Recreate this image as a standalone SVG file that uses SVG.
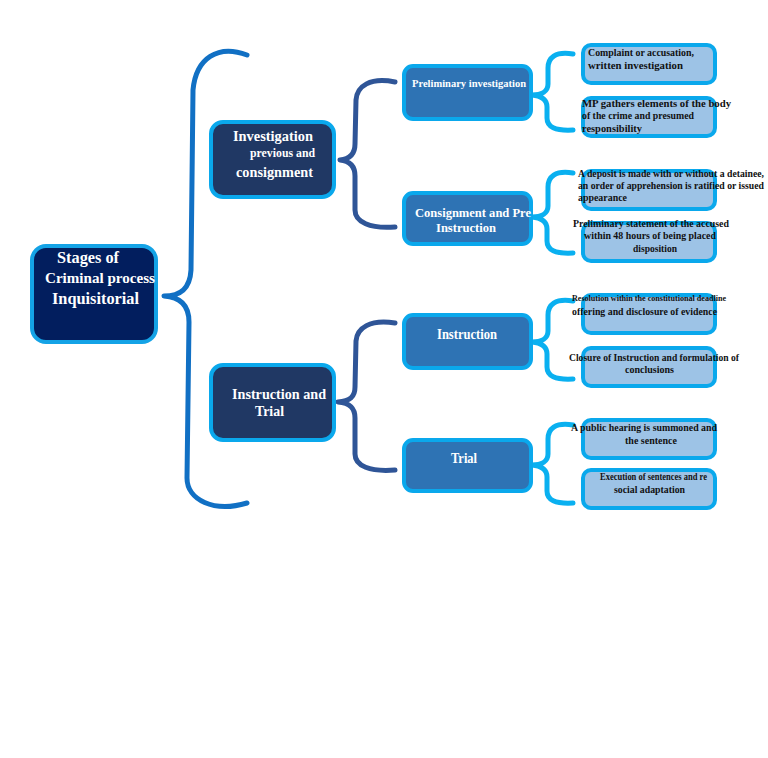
<svg xmlns="http://www.w3.org/2000/svg" width="768" height="758" viewBox="0 0 768 758">
<style>
.root{fill:#021e5e;stroke:#14a3e6;stroke-width:4}
.l1{fill:#203864;stroke:#0aa8ec;stroke-width:4}
.l2{fill:#2e73b4;stroke:#0aa8ec;stroke-width:4}
.leaf{fill:#9dc3e6;stroke:#0aa8ec;stroke-width:4}
text{font-family:"Liberation Serif","Times New Roman",serif;font-weight:bold}
.w{fill:#ffffff}
.k{fill:#111111}
.b0{fill:none;stroke:#1170c4;stroke-width:5;stroke-linecap:round;stroke-linejoin:round}
.b1{fill:none;stroke:#2f5597;stroke-width:5;stroke-linecap:round;stroke-linejoin:round}
.b2{fill:none;stroke:#0ab0f0;stroke-width:5;stroke-linecap:round;stroke-linejoin:round}
</style>
<rect width="768" height="758" fill="#ffffff"/>
<g id="connectors">
<path class="b0" d="M247,55 C218,44 196,58 193,90 L191,270 C190,288 181,296 164,296 C181,297 189,306 189,322 L187,478 C187,500 214,513 247,503"/>
<path class="b1" d="M395,82 C370,77 357,86 356,100 L355,144 C355,154 350,159 340,160 C350,161 355,166 355,176 L355,210 C355,222 370,229 395,227"/>
<path class="b1" d="M395,323 C370,319 357,328 356,341 L355,387 C355,397 350,401 338,402 C350,403 355,408 355,418 L355,454 C355,466 370,472 395,470"/>
<path class="b2" d="M573,54 C555,51 548,58 548,68 L548,84 C548,91 542,95 532,95 C542,96 547,100 547,107 L547,118 C547,127 555,131 573,130"/>
<path class="b2" d="M573,173 C555,170 548,177 548,187 L548,206 C548,213 542,217 532,217 C542,218 547,222 547,229 L547,241 C547,250 555,254 573,253"/>
<path class="b2" d="M573,301 C555,298 548,305 548,315 L548,331 C548,338 542,342 532,342 C542,343 547,347 547,354 L547,367 C547,376 555,380 573,379"/>
<path class="b2" d="M573,425 C555,422 548,429 548,439 L548,454 C548,461 542,465 532,465 C542,466 547,470 547,477 L547,491 C547,500 555,504 573,503"/>
</g>
<g id="root">
<rect class="root" x="32" y="246" width="124" height="96" rx="14"/>
<text class="w" x="57" y="263" font-size="16" textLength="62" lengthAdjust="spacingAndGlyphs">Stages of</text>
<text class="w" x="45" y="283" font-size="15" textLength="110" lengthAdjust="spacingAndGlyphs">Criminal process</text>
<text class="w" x="52" y="304" font-size="16.5" textLength="87" lengthAdjust="spacingAndGlyphs">Inquisitorial</text>
</g>
<g id="n-investigation">
<rect class="l1" x="211" y="122" width="123" height="75" rx="12"/>
<text class="w" x="233" y="141" font-size="15" textLength="80" lengthAdjust="spacingAndGlyphs">Investigation</text>
<text class="w" x="250" y="157" font-size="12" textLength="65" lengthAdjust="spacingAndGlyphs">previous and</text>
<text class="w" x="236" y="177" font-size="15" textLength="77" lengthAdjust="spacingAndGlyphs">consignment</text>
</g>
<g id="n-instruction-trial">
<rect class="l1" x="211" y="365" width="123" height="75" rx="12"/>
<text class="w" x="232" y="399" font-size="15" textLength="94" lengthAdjust="spacingAndGlyphs">Instruction and</text>
<text class="w" x="255" y="416" font-size="15" textLength="29" lengthAdjust="spacingAndGlyphs">Trial</text>
</g>
<g id="n-preliminary">
<rect class="l2" x="404" y="66" width="127" height="53" rx="9"/>
<text class="w" x="412" y="87" font-size="11" textLength="114" lengthAdjust="spacingAndGlyphs">Preliminary investigation</text>
</g>
<g id="n-consignment">
<rect class="l2" x="404" y="193" width="127" height="51" rx="9"/>
<text class="w" x="415" y="217" font-size="13" textLength="116" lengthAdjust="spacingAndGlyphs">Consignment and Pre</text>
<text class="w" x="436" y="232" font-size="13" textLength="60" lengthAdjust="spacingAndGlyphs">Instruction</text>
</g>
<g id="n-instruction">
<rect class="l2" x="404" y="315" width="127" height="53" rx="9"/>
<text class="w" x="437" y="339" font-size="14" textLength="60" lengthAdjust="spacingAndGlyphs">Instruction</text>
</g>
<g id="n-trial">
<rect class="l2" x="404" y="440" width="127" height="51" rx="9"/>
<text class="w" x="451" y="463" font-size="14" textLength="26" lengthAdjust="spacingAndGlyphs">Trial</text>
</g>
<g id="leaf-complaint">
<rect class="leaf" x="583" y="45" width="132" height="38" rx="8"/>
<text class="k" x="588" y="56" font-size="11" textLength="106" lengthAdjust="spacingAndGlyphs">Complaint or accusation,</text>
<text class="k" x="588" y="69" font-size="11" textLength="95" lengthAdjust="spacingAndGlyphs">written investigation</text>
</g>
<g id="leaf-mp">
<rect class="leaf" x="583" y="98" width="132" height="38" rx="8"/>
<text class="k" x="582" y="107" font-size="11" textLength="149" lengthAdjust="spacingAndGlyphs">MP gathers elements of the body</text>
<text class="k" x="582" y="119" font-size="11" textLength="112" lengthAdjust="spacingAndGlyphs">of the crime and presumed</text>
<text class="k" x="582" y="132" font-size="11" textLength="60" lengthAdjust="spacingAndGlyphs">responsibility</text>
</g>
<g id="leaf-deposit">
<rect class="leaf" x="583" y="171" width="132" height="38" rx="8"/>
<text class="k" x="578" y="177" font-size="9.6" textLength="186" lengthAdjust="spacingAndGlyphs">A deposit is made with or without a detainee,</text>
<text class="k" x="578" y="189" font-size="9.6" textLength="186" lengthAdjust="spacingAndGlyphs">an order of apprehension is ratified or issued</text>
<text class="k" x="578" y="201" font-size="10.5" textLength="49" lengthAdjust="spacingAndGlyphs">appearance</text>
</g>
<g id="leaf-statement">
<rect class="leaf" x="583" y="223" width="132" height="38" rx="8"/>
<text class="k" x="573" y="227" font-size="10.5" textLength="156" lengthAdjust="spacingAndGlyphs">Preliminary statement of the accused</text>
<text class="k" x="584" y="239" font-size="10.5" textLength="132" lengthAdjust="spacingAndGlyphs">within 48 hours of being placed</text>
<text class="k" x="633" y="252" font-size="10.5" textLength="44" lengthAdjust="spacingAndGlyphs">disposition</text>
</g>
<g id="leaf-resolution">
<rect class="leaf" x="583" y="295" width="132" height="38" rx="8"/>
<text class="k" x="572" y="301" font-size="9" textLength="154" lengthAdjust="spacingAndGlyphs">Resolution within the constitutional deadline</text>
<text class="k" x="572" y="315" font-size="11" textLength="145" lengthAdjust="spacingAndGlyphs">offering and disclosure of evidence</text>
</g>
<g id="leaf-closure">
<rect class="leaf" x="583" y="348" width="132" height="38" rx="8"/>
<text class="k" x="569" y="361" font-size="10.5" textLength="170" lengthAdjust="spacingAndGlyphs">Closure of Instruction and formulation of</text>
<text class="k" x="625" y="373" font-size="10.5" textLength="49" lengthAdjust="spacingAndGlyphs">conclusions</text>
</g>
<g id="leaf-hearing">
<rect class="leaf" x="583" y="420" width="132" height="38" rx="8"/>
<text class="k" x="571" y="431" font-size="11" textLength="146" lengthAdjust="spacingAndGlyphs">A public hearing is summoned and</text>
<text class="k" x="625" y="444" font-size="11" textLength="52" lengthAdjust="spacingAndGlyphs">the sentence</text>
</g>
<g id="leaf-execution">
<rect class="leaf" x="583" y="470" width="132" height="38" rx="8"/>
<text class="k" x="600" y="480" font-size="9.5" textLength="107" lengthAdjust="spacingAndGlyphs">Execution of sentences and re</text>
<text class="k" x="614" y="493" font-size="10.5" textLength="71" lengthAdjust="spacingAndGlyphs">social adaptation</text>
</g>
</svg>
